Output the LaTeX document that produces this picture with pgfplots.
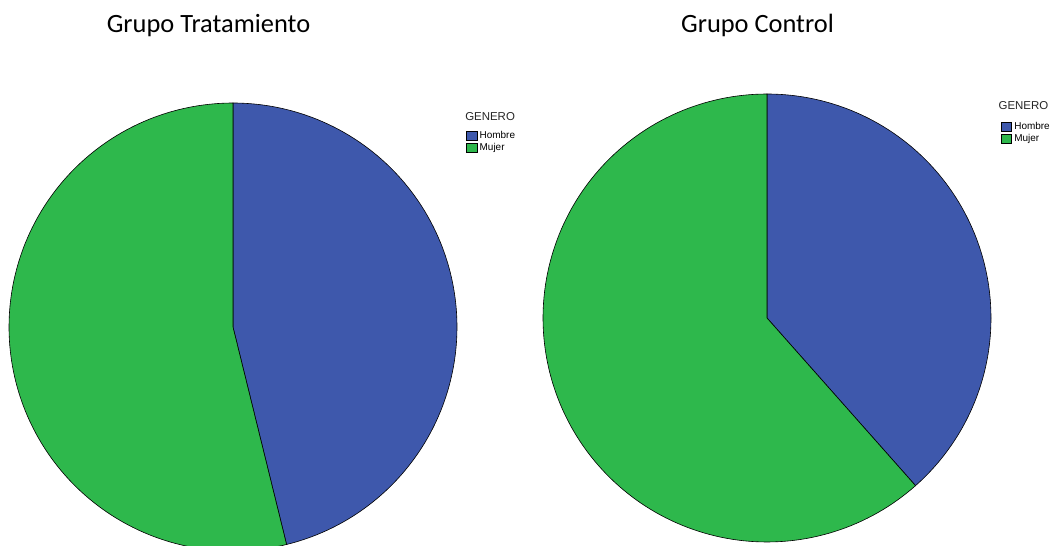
\documentclass[border=0pt]{standalone}
\usepackage{fontspec}
\setmainfont{Carlito}
\newfontfamily\arialfont{Liberation Sans}
\usepackage{pgfplots}
\usepackage{pgfplotstable}
\pgfplotsset{compat=1.18}
\definecolor{hombre}{RGB}{62,88,172}
\definecolor{mujer}{RGB}{46,184,76}

\pgfplotstableread{
grupo hombre mujer
Tratamiento 12 14
Control 10 16
}\generotable

\pgfplotsset{
  pieaxis/.style={
    hide axis, x=224bp, y=224bp,
    xmin=-1, xmax=1, ymin=-1, ymax=1,
    clip=false, anchor=origin,
    legend image code/.code={\draw[##1,draw=black,line width=0.4bp] (0bp,-4.5bp) rectangle (10.5bp,4.5bp);},
    legend style={draw=none, fill=none, inner sep=0pt, anchor=north west,
      font=\arialfont\fontsize{10}{11}\selectfont, row sep=1.2bp, column sep=1.5bp,
      nodes={inner sep=1.1bp}, cells={anchor=west}},
    legend cell align=left,
  },
  sector/.style={draw=black, line width=0.6bp, samples=150, variable=\t},
}

\begin{document}
\begin{tikzpicture}
\useasboundingbox (0,0) rectangle (1054bp,546bp);
\clip (0,0) rectangle (1054bp,546bp);

\pgfplotstablegetelem{0}{hombre}\of\generotable \let\hA\pgfplotsretval
\pgfplotstablegetelem{0}{mujer}\of\generotable \let\mA\pgfplotsretval
\pgfplotstablegetelem{1}{hombre}\of\generotable \let\hB\pgfplotsretval
\pgfplotstablegetelem{1}{mujer}\of\generotable \let\mB\pgfplotsretval
\pgfmathsetmacro\angA{90-360*\hA/(\hA+\mA)}
\pgfmathsetmacro\angB{90-360*\hB/(\hB+\mB)}

\node[anchor=base, font=\fontsize{26.5}{30}\selectfont, inner sep=0pt] at (208.5bp,513bp) {Grupo Tratamiento};
\node[anchor=base, font=\fontsize{26.5}{30}\selectfont, inner sep=0pt] at (757.5bp,513bp) {Grupo Control};

\begin{axis}[pieaxis, at={(233bp,219bp)}, legend style={at={(axis cs:1.040,0.878)}}]
  \addplot[sector, fill=hombre, domain=\angA:90] ({cos(\t)},{sin(\t)}) -- (axis cs:0,0) -- cycle;
  \addlegendentry{Hombre}
  \addplot[sector, fill=mujer, domain=-270:\angA] ({cos(\t)},{sin(\t)}) -- (axis cs:0,0) -- cycle;
  \addlegendentry{Mujer}
  \node[anchor=base west, font=\arialfont\fontsize{11.5}{13}\selectfont, text=black!85, inner sep=0pt] at (axis cs:1.036,0.924) {GENERO};
\end{axis}

\begin{axis}[pieaxis, at={(767bp,228bp)}, legend style={at={(axis cs:1.043,0.879)}}]
  \addplot[sector, fill=hombre, domain=\angB:90] ({cos(\t)},{sin(\t)}) -- (axis cs:0,0) -- cycle;
  \addlegendentry{Hombre}
  \addplot[sector, fill=mujer, domain=-270:\angB] ({cos(\t)},{sin(\t)}) -- (axis cs:0,0) -- cycle;
  \addlegendentry{Mujer}
  \node[anchor=base west, font=\arialfont\fontsize{11.5}{13}\selectfont, text=black!85, inner sep=0pt] at (axis cs:1.033,0.929) {GENERO};
\end{axis}
\end{tikzpicture}
\end{document}
